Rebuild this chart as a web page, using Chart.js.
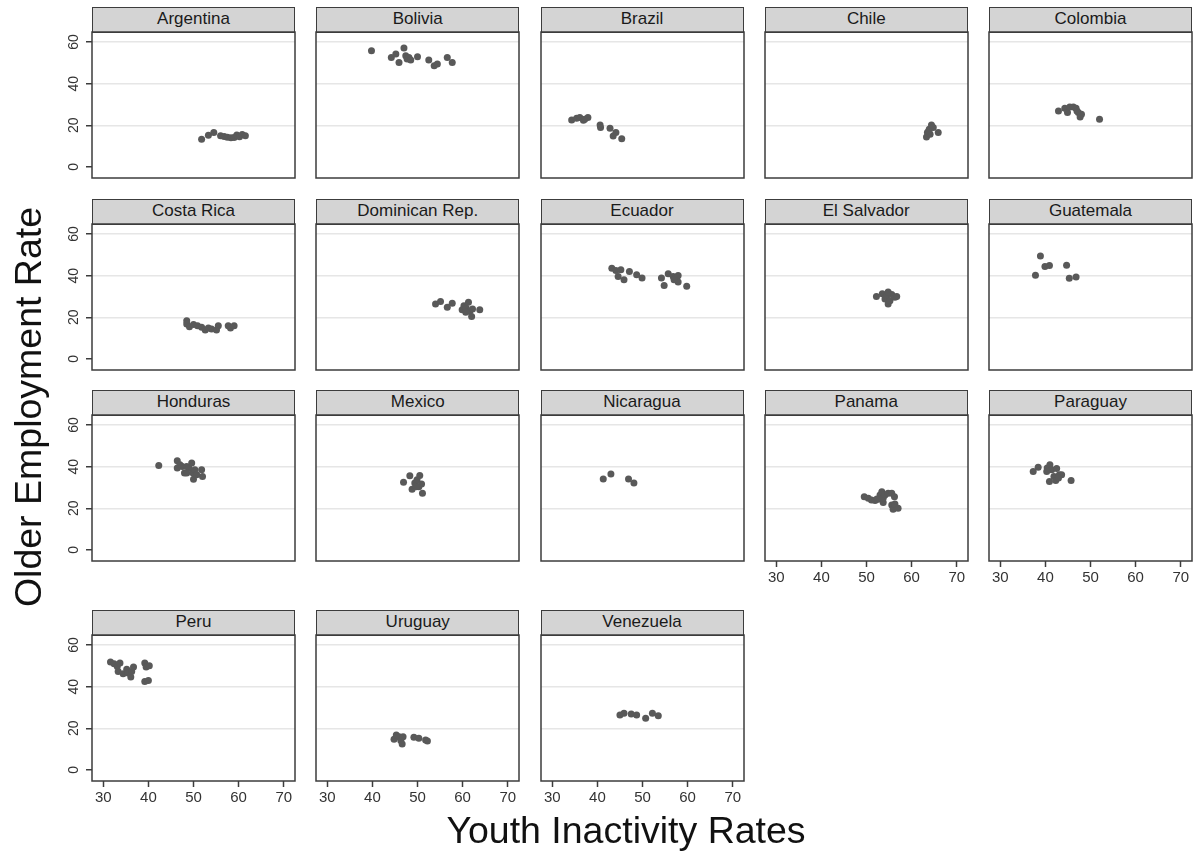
<!DOCTYPE html>
<html>
<head>
<meta charset="utf-8">
<title>Older Employment Rate vs Youth Inactivity Rates</title>
<script src="https://cdn.jsdelivr.net/npm/chart.js@4.4.1/dist/chart.umd.min.js"></script>
<style>
  html, body { margin: 0; padding: 0; background: #fff; }
  body {
    width: 1194px; height: 854px; position: relative; overflow: hidden;
    font-family: "Liberation Sans", Arial, Helvetica, sans-serif; color: #222;
  }
  canvas { position: absolute; }
  .strip {
    position: absolute; box-sizing: border-box;
    background: #d4d4d4; border: 1.5px solid #3c3c3c;
    text-align: center; font-size: 17px; color: #1a1a1a;
  }
  .title {
    position: absolute; text-align: center; font-size: 37.5px; color: #111;
    white-space: nowrap;
  }
</style>
</head>
<body>
<div id="grid"></div>
<div class="title" id="ytitle" style="left:-222px; top:386px; width:500px; height:42px; line-height:42px; transform:rotate(-90deg);">Older Employment Rate</div>
<div class="title" id="xtitle" style="left:326px; top:809px; width:600px; height:42px; line-height:42px;">Youth Inactivity Rates</div>

<script>
// Panel order (5 columns, filled row by row)
const countries = [
  "Argentina", "Bolivia", "Brazil", "Chile", "Colombia",
  "Costa Rica", "Dominican Rep.", "Ecuador", "El Salvador", "Guatemala",
  "Honduras", "Mexico", "Nicaragua", "Panama", "Paraguay",
  "Peru", "Uruguay", "Venezuela"
];

// Youth inactivity rate (x), one list per country
const youthInactivity = [
  [51.8, 53.3, 54.5, 56.0, 56.8, 57.5, 58.3, 59.0, 59.6, 60.2, 60.8, 61.5],
  [39.8, 44.2, 45.2, 45.9, 47.0, 47.4, 47.7, 48.1, 48.5, 50.0, 52.5, 53.7, 54.4, 56.6, 57.7],
  [34.3, 35.4, 36.1, 36.9, 37.2, 37.9, 40.6, 40.7, 42.8, 43.5, 44.1, 45.4],
  [63.3, 63.5, 63.9, 64.4, 64.8, 64.1, 65.9, 63.8],
  [42.9, 44.3, 44.9, 45.4, 46.2, 46.8, 47.3, 47.7, 48.0, 47.0, 52.0],
  [48.5, 48.5, 49.1, 50.0, 50.9, 51.8, 52.6, 53.3, 54.0, 55.1, 55.5, 57.7, 58.2, 59.0],
  [54.0, 55.1, 56.6, 57.7, 59.9, 60.3, 60.8, 61.3, 61.6, 62.2, 62.0, 63.8, 60.7],
  [43.2, 44.1, 45.2, 44.6, 45.9, 47.1, 48.7, 49.9, 54.2, 54.8, 55.7, 56.8, 57.6, 57.9, 57.9, 59.8, 57.0],
  [52.2, 53.5, 54.1, 54.5, 54.8, 55.2, 55.6, 56.3, 56.7, 54.8],
  [38.9, 39.9, 40.9, 37.8, 44.7, 45.3, 46.8],
  [42.3, 46.4, 46.4, 47.0, 47.5, 48.0, 48.5, 49.0, 49.6, 49.9, 50.0, 50.3, 51.8, 52.0, 48.5, 50.7],
  [46.9, 48.3, 48.8, 49.4, 49.9, 50.5, 50.3, 50.9, 51.1, 49.7],
  [41.3, 43.0, 46.9, 48.1],
  [49.5, 50.4, 51.1, 51.9, 52.6, 53.0, 53.4, 53.7, 53.7, 54.1, 54.8, 55.6, 56.2, 55.6, 55.9, 56.3, 57.0, 52.3],
  [37.3, 38.4, 40.4, 41.0, 41.4, 40.9, 41.9, 42.3, 42.5, 43.1, 43.6, 42.9, 45.7, 40.3],
  [31.6, 32.4, 33.1, 33.7, 33.3, 34.4, 35.2, 35.5, 36.1, 36.3, 36.7, 39.2, 39.5, 40.2, 39.2, 40.0],
  [44.8, 45.3, 45.9, 46.3, 46.6, 46.8, 49.2, 50.3, 51.8, 52.2],
  [45.0, 45.9, 47.5, 48.7, 50.7, 52.2, 53.5]
];

// Older employment rate (y), same order as above
const olderEmployment = [
  [13.3, 15.2, 16.5, 15.0, 14.6, 14.3, 14.0, 14.2, 15.3, 14.5, 15.6, 15.0],
  [55.8, 52.6, 54.2, 50.2, 57.1, 53.4, 51.8, 52.6, 51.3, 52.9, 51.4, 48.6, 49.4, 52.6, 50.2],
  [22.6, 23.4, 23.7, 22.4, 22.9, 23.7, 20.2, 18.9, 18.6, 14.9, 16.5, 13.6],
  [14.4, 16.5, 18.1, 20.2, 18.9, 15.7, 16.5, 17.2],
  [26.9, 28.2, 26.1, 28.8, 28.8, 28.2, 26.1, 24.0, 25.3, 26.9, 22.9],
  [18.4, 16.8, 15.5, 16.5, 16.0, 15.2, 13.9, 14.9, 14.4, 13.9, 16.0, 16.0, 14.9, 16.0],
  [26.4, 27.6, 24.8, 26.8, 23.6, 25.6, 24.5, 27.2, 22.9, 24.0, 20.4, 23.6, 22.4],
  [43.6, 42.5, 42.8, 39.6, 38.0, 42.0, 40.4, 38.9, 38.9, 35.3, 40.9, 39.6, 38.9, 40.1, 36.9, 34.9, 38.0],
  [30.0, 31.3, 28.8, 30.4, 26.4, 28.0, 30.9, 29.6, 30.0, 32.1],
  [49.4, 44.4, 44.9, 40.2, 45.0, 38.8, 39.4],
  [40.5, 42.8, 39.3, 40.9, 40.1, 36.9, 40.1, 39.3, 41.7, 36.9, 34.0, 38.5, 38.5, 35.3, 36.9, 36.1],
  [32.5, 35.6, 29.2, 32.1, 33.7, 35.7, 30.4, 31.7, 27.2, 30.4],
  [34.1, 36.5, 34.1, 32.1],
  [25.6, 24.8, 24.0, 23.7, 24.4, 26.4, 28.0, 22.8, 24.8, 26.4, 27.2, 27.2, 25.6, 21.6, 19.6, 22.1, 20.0, 24.5],
  [37.7, 39.7, 39.3, 40.9, 38.5, 32.9, 35.3, 33.3, 39.1, 36.1, 36.1, 34.5, 33.3, 37.7],
  [51.8, 51.0, 49.7, 51.3, 47.3, 46.2, 48.4, 46.5, 44.6, 47.3, 49.4, 51.3, 49.4, 50.0, 42.5, 42.9],
  [14.7, 16.8, 16.0, 14.1, 12.5, 16.0, 15.7, 15.2, 14.4, 13.9],
  [26.4, 27.2, 26.9, 26.4, 24.8, 27.2, 26.0]
];

// Axis ticks and ranges
const xTicks = [30, 40, 50, 60, 70];
const yTicks = [0, 20, 40, 60];
const xRange = [27.5, 72.5];
const yRange = [-5.3, 64.8];

// Panels that carry the x axis (bottom of each column)
const panelsWithXAxis = ["Panama", "Paraguay", "Peru", "Uruguay", "Venezuela"];

// Layout of the grid of panels
const NCOL = 5;
const PLOT_W = 203, PLOT_H = 146;
const COL_LEFT0 = 92, COL_STEP = 224.25;
const ROW_TOP = [32, 224, 415, 635];
const STRIP_H = 25;
const Y_AXIS_W = 45, X_AXIS_H = 32, PAD = 2;

const FONT = '"Liberation Sans", Arial, Helvetica, sans-serif';
const FRAME = '#3c3c3c';

// Frame around each plot region, plus rotated y tick labels on the first column
const panelFrame = {
  id: 'panelFrame',
  afterDraw(chart, args, opts) {
    const { ctx, chartArea: a, scales } = chart;
    ctx.save();
    ctx.strokeStyle = FRAME;
    ctx.lineWidth = 1.5;
    ctx.strokeRect(a.left, a.top, a.right - a.left, a.bottom - a.top);
    if (opts.yLabels) {
      ctx.fillStyle = '#333';
      ctx.font = '14px ' + FONT;
      ctx.textAlign = 'center';
      ctx.textBaseline = 'alphabetic';
      for (const v of yTicks) {
        const py = scales.y.getPixelForValue(v);
        ctx.save();
        ctx.translate(a.left - 14, py);
        ctx.rotate(-Math.PI / 2);
        ctx.fillText(String(v), 0, 0);
        ctx.restore();
      }
    }
    ctx.restore();
  }
};

const host = document.getElementById('grid');

countries.forEach((name, i) => {
  const col = i % NCOL, row = Math.floor(i / NCOL);
  const plotLeft = COL_LEFT0 + col * COL_STEP;
  const plotTop = ROW_TOP[row];
  const hasY = col === 0;
  const hasX = panelsWithXAxis.includes(name);
  const yw = hasY ? Y_AXIS_W : 0;
  const xh = hasX ? X_AXIS_H : 0;

  // header strip
  const strip = document.createElement('div');
  strip.className = 'strip';
  strip.style.left = plotLeft + 'px';
  strip.style.top = (plotTop - STRIP_H) + 'px';
  strip.style.width = PLOT_W + 'px';
  strip.style.height = (STRIP_H + 1) + 'px';
  strip.style.lineHeight = (STRIP_H - 3) + 'px';
  strip.textContent = name;
  host.appendChild(strip);

  const cv = document.createElement('canvas');
  const cw = PLOT_W + yw + 2 * PAD, ch = PLOT_H + xh + 2 * PAD;
  cv.width = cw; cv.height = ch;
  cv.style.width = cw + 'px'; cv.style.height = ch + 'px';
  cv.style.left = (plotLeft - yw - PAD) + 'px';
  cv.style.top = (plotTop - PAD) + 'px';
  host.appendChild(cv);

  const points = youthInactivity[i].map((x, k) => ({ x: x, y: olderEmployment[i][k] }));

  new Chart(cv, {
    type: 'scatter',
    data: {
      datasets: [{
        data: points,
        backgroundColor: '#595959',
        borderWidth: 0,
        pointRadius: 3.5,
        pointHoverRadius: 3.5
      }]
    },
    options: {
      responsive: false,
      animation: false,
      devicePixelRatio: 1,
      layout: { padding: PAD, autoPadding: false },
      plugins: {
        legend: { display: false },
        tooltip: { enabled: false },
        panelFrame: { yLabels: hasY }
      },
      scales: {
        x: {
          type: 'linear',
          display: hasX,
          min: xRange[0], max: xRange[1],
          afterBuildTicks: s => { s.ticks = xTicks.map(v => ({ value: v })); },
          afterFit: s => { s.height = xh; },
          border: { display: false },
          grid: {
            drawOnChartArea: false, drawTicks: true, tickLength: 6,
            tickColor: FRAME, tickWidth: 1.5
          },
          ticks: {
            autoSkip: false, maxRotation: 0, minRotation: 0, padding: 2,
            color: '#333', font: { family: FONT, size: 15 }
          }
        },
        y: {
          type: 'linear',
          display: true,
          min: yRange[0], max: yRange[1],
          afterBuildTicks: s => { s.ticks = yTicks.map(v => ({ value: v })); },
          afterFit: s => { s.width = yw; },
          border: { display: false },
          grid: {
            drawTicks: hasY, tickLength: 6, tickColor: FRAME, tickWidth: 1.5,
            lineWidth: 1.5,
            color: c => (c.tick && c.tick.value > 0) ? '#e6e6e6' : 'rgba(0,0,0,0)'
          },
          ticks: { display: false }
        }
      }
    },
    plugins: [panelFrame]
  });
});
</script>
</body>
</html>
